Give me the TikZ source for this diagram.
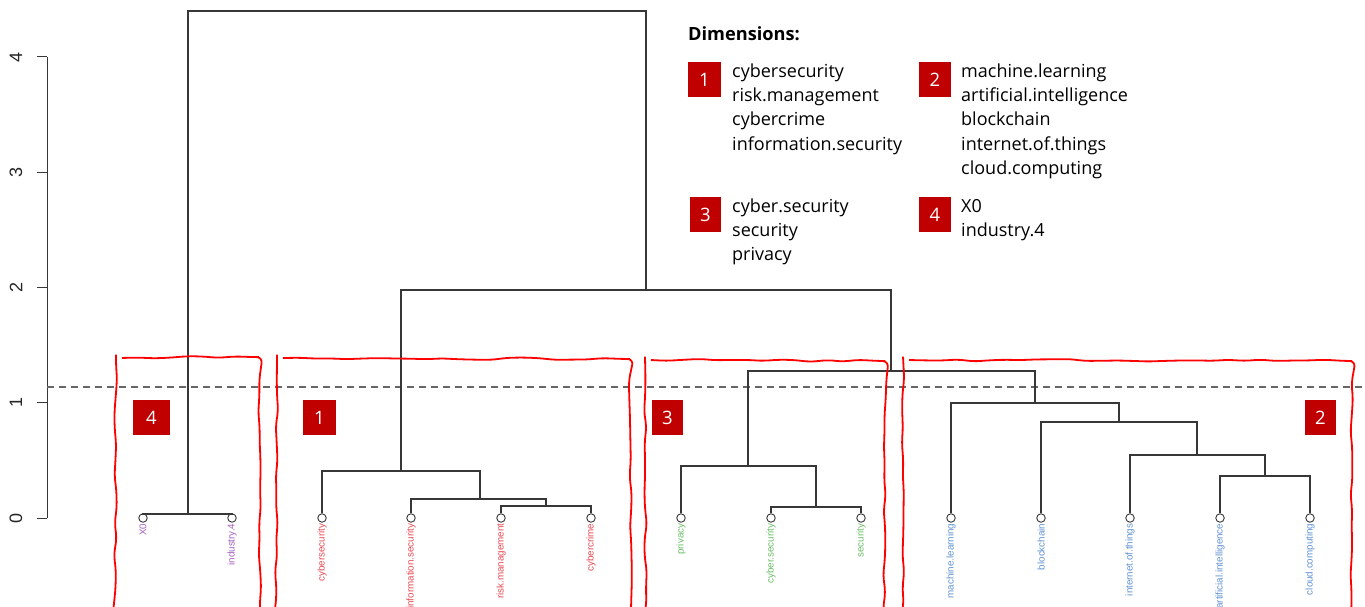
\documentclass[tikz,border=0pt]{standalone}
\usepackage{fontspec}
\setmainfont{Liberation Sans}
\newfontfamily\legfont{Open Sans}
\usetikzlibrary{decorations.pathmorphing}
\definecolor{badgered}{HTML}{C00000}
\definecolor{cpurple}{RGB}{165,95,190}
\definecolor{cred}{RGB}{232,72,82}
\definecolor{cgreen}{RGB}{105,190,100}
\definecolor{cblue}{RGB}{95,145,210}
\definecolor{treeline}{RGB}{55,55,55}
\begin{document}
\begin{tikzpicture}[x=1pt,y=-1pt,
  leaf/.style={circle,draw=treeline,line width=0.9pt,minimum size=8.5pt,inner sep=0pt},
  leaflab/.style={rotate=90,anchor=east,inner sep=0pt,font=\fontsize{9.8}{9.8}\selectfont},
  branch/.style={draw=treeline,line width=1.1pt},
  badge/.style={fill=badgered,text=white,minimum width=33pt,minimum height=35pt,inner sep=0pt,font=\legfont\fontsize{18.5}{18.5}\selectfont},
  legtext/.style={anchor=base west,inner sep=0pt,font=\legfont\fontsize{18}{18}\selectfont},
  wavy/.style={draw=red,line width=1.8pt,decorate,decoration={random steps,segment length=16pt,amplitude=1.3pt},rounded corners=6pt},
  tick/.style={draw=treeline,line width=1pt},
  ticklab/.style={rotate=90,font=\fontsize{18}{18}\selectfont,text=black!85}
]
\useasboundingbox (0,0) rectangle (1365,607);
\clip (0,0) rectangle (1365,607);
\pgfmathsetseed{7}

% axis
\draw[tick] (47,57) -- (47,518);
\foreach \v/\yy in {0/518,1/402,2/287,3/172,4/57}{
  \draw[tick] (37,\yy) -- (47,\yy);
  \node[ticklab] (t\v) at (16,\yy) {\v};
}

% cut line
\draw[gray!80!black,line width=1.2pt,dash pattern=on 7pt off 5pt] (47,387) -- (1365,387);

% leaves
\foreach \n/\xx/\lab/\col in {
  a/143/X0/cpurple, b/232/industry.4/cpurple,
  c/322/cybersecurity/cred, d/411/information.security/cred, e/501/risk.management/cred, f/591/cybercrime/cred,
  g/681/privacy/cgreen, h/771/cyber.security/cgreen, i/861/security/cgreen,
  j/951/machine.learning/cblue, k/1041/blockchain/cblue, l/1130/internet.of.things/cblue, m/1220/artificial.intelligence/cblue, n/1310/cloud.computing/cblue}{
  \node[leaf] (\n) at (\xx,518) {};
  \node[leaflab,text=\col] (\n lab) at (\xx,523.5) {\lab};
}

% merge points
\coordinate (mab) at (188,514);
\coordinate (mef) at (546,506);
\coordinate (mdef) at (480,499);
\coordinate (mc) at (401,471);
\coordinate (mhi) at (816,507);
\coordinate (mg) at (748,466);
\coordinate (mmn) at (1265,476);
\coordinate (ml) at (1197,455);
\coordinate (mk) at (1119,422);
\coordinate (mj) at (1035,403);
\coordinate (m32) at (891,371);
\coordinate (m132) at (646,290);
\coordinate (root) at (417,11);

\draw[branch] (a.north) |- (mab) -| (b.north);
\draw[branch] (e.north) |- (mef) -| (f.north);
\draw[branch] (d.north) |- (mdef) -| (mef);
\draw[branch] (c.north) |- (mc) -| (mdef);
\draw[branch] (h.north) |- (mhi) -| (i.north);
\draw[branch] (g.north) |- (mg) -| (mhi);
\draw[branch] (m.north) |- (mmn) -| (n.north);
\draw[branch] (l.north) |- (ml) -| (mmn);
\draw[branch] (k.north) |- (mk) -| (ml);
\draw[branch] (j.north) |- (mj) -| (mk);
\draw[branch] (mg) |- (m32) -| (mj);
\draw[branch] (mc) |- (m132) -| (m32);
\draw[branch] (mab) |- (root) -| (m132);

% red hand-drawn boxes
\draw[wavy] (116,358) -- (259,357) -- (260,625) -- (115,625) -- cycle;
\draw[wavy] (277,358) -- (630,359) -- (631,625) -- (276,625) -- cycle;
\draw[wavy] (645,360) -- (885,361) -- (884,625) -- (646,625) -- cycle;
\draw[wavy] (903,360) -- (1352,361) -- (1351,625) -- (903,625) -- cycle;

% in-plot badges
\node[badge,minimum width=37pt] (b4) at (151.5,417.5) {4};
\node[badge] (b1) at (319.5,417.5) {1};
\node[badge,minimum width=31pt] (b3) at (667.5,417.5) {3};
\node[badge,minimum width=31pt] (b2) at (1320.5,417.5) {2};

% legend
\node[anchor=base west,inner sep=0pt,font=\legfont\bfseries\fontsize{18.2}{18.2}\selectfont] (dimtitle) at (688,41) {Dimensions:};
\node[badge] (lb1) at (704.5,79.5) {1};
\node[badge,minimum width=32pt] (lb2) at (935,79.5) {2};
\node[badge,minimum width=31pt] (lb3) at (705.5,214.5) {3};
\node[badge,minimum width=32pt] (lb4) at (935,214.5) {4};
\foreach \t [count=\i] in {cybersecurity,risk.management,cybercrime,information.security}
  \node[legtext] (la\i) at (732,54+24*\i) {\t};
\foreach \t [count=\i] in {machine.learning,artificial.intelligence,blockchain,internet.of.things,cloud.computing}
  \node[legtext] (lc\i) at (961,54+24*\i) {\t};
\foreach \t [count=\i] in {cyber.security,security,privacy}
  \node[legtext] (ld\i) at (732,188+24*\i) {\t};
\foreach \t [count=\i] in {X0,industry.4}
  \node[legtext] (le\i) at (961,188+24*\i) {\t};
\end{tikzpicture}
\end{document}
